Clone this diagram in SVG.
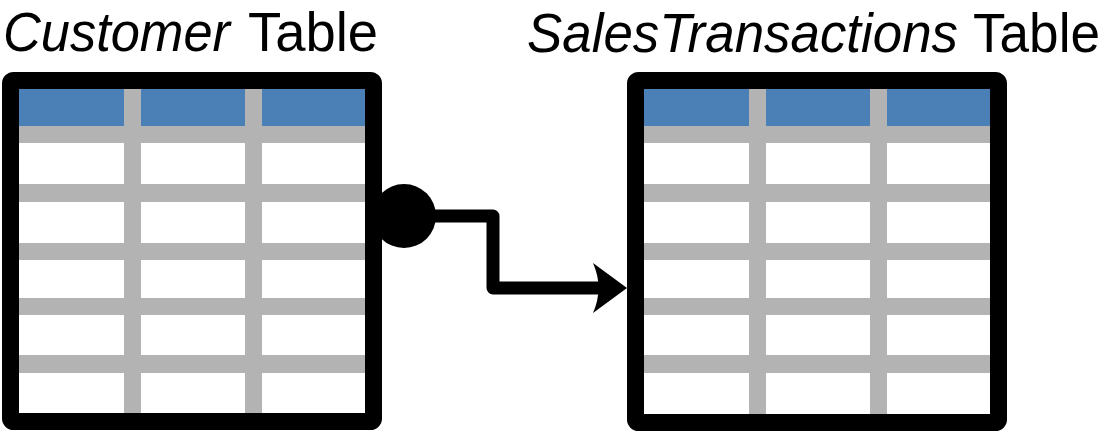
<svg xmlns="http://www.w3.org/2000/svg" xmlns:xlink="http://www.w3.org/1999/xlink" width="1109" height="431" viewBox="0 0 1109 431">
<style>
.title{font-family:"Liberation Sans",Arial,sans-serif;font-size:56px;fill:#000}
.it{font-style:italic}
.frame{fill:none;stroke:#000;stroke-width:17;stroke-linejoin:round}
.band{fill:#b3b3b3}
.head{fill:#4b80b6}
.conn{fill:none;stroke:#000;stroke-width:13;stroke-linejoin:round}
</style>
<defs>
<g id="grid">
<rect x="0" y="0" width="346" height="325" fill="#fff"/>
<rect class="head" x="0" y="0" width="346" height="37"/>
<rect class="band" x="0" y="37" width="346" height="17"/>
<rect class="band" x="0" y="95" width="346" height="18"/>
<rect class="band" x="0" y="154" width="346" height="17"/>
<rect class="band" x="0" y="209" width="346" height="17"/>
<rect class="band" x="0" y="266" width="346" height="18"/>
<rect class="band" x="105" y="0" width="17" height="325"/>
<rect class="band" x="226" y="0" width="17" height="325"/>
</g>
</defs>
<g id="customer-table">
<text class="title" y="51"><tspan class="it" x="3" textLength="227" lengthAdjust="spacingAndGlyphs">Customer</tspan></text>
<text class="title" x="248" y="51" textLength="130" lengthAdjust="spacingAndGlyphs">Table</text>
<use xlink:href="#grid" x="19" y="89"/>
<rect class="frame" x="10.5" y="80.5" width="363" height="341" rx="3"/>
</g>
<g id="sales-transactions-table">
<text class="title" y="52"><tspan class="it" x="527" textLength="431" lengthAdjust="spacingAndGlyphs">SalesTransactions</tspan></text>
<text class="title" x="973" y="52" textLength="127" lengthAdjust="spacingAndGlyphs">Table</text>
<use xlink:href="#grid" x="644" y="89"/>
<rect class="frame" x="635.5" y="80.5" width="363" height="342" rx="3"/>
</g>
<g id="connectors">
<circle cx="404" cy="216" r="32" fill="#000"/>
<path class="conn" d="M404 216 H493 V288 H602"/>
<path d="M627 288 L593 263 Q604 288 593 313 Z" fill="#000"/>
</g>
</svg>
